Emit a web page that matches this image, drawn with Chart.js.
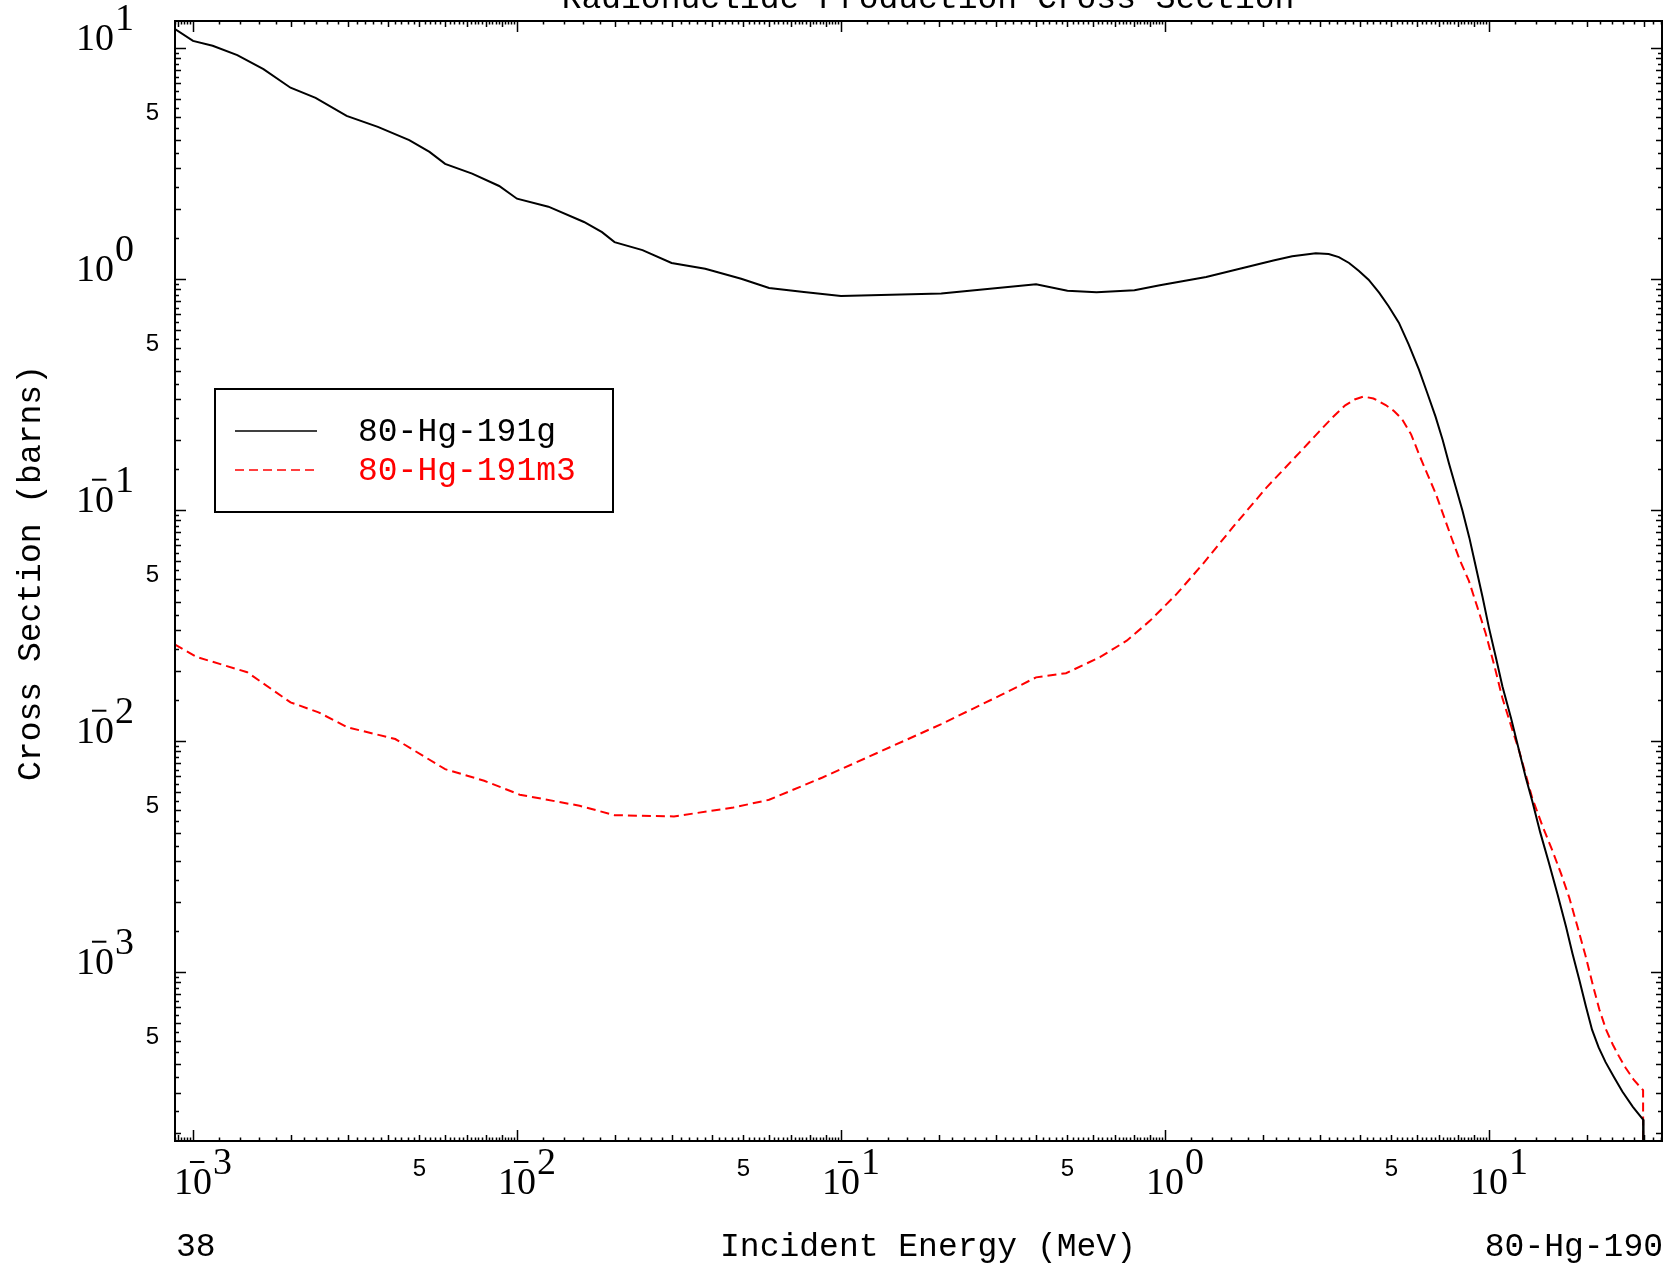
<!DOCTYPE html>
<html>
<head>
<meta charset="utf-8">
<script src="https://cdn.jsdelivr.net/npm/chart.js@4.4.1/dist/chart.umd.min.js"></script>
<style>
  html, body { margin: 0; padding: 0; background: #fff; overflow: hidden; }
  canvas { display: block; }
</style>
</head>
<body>
<canvas id="xsChart" width="1665" height="1267"></canvas>
<script>
// values (energy in MeV, cross section in barns)
const blackEnergy = [8.8e-4, 1.0e-3, 1.15e-3, 1.37e-3, 1.65e-3, 2.0e-3, 2.39e-3, 2.98e-3, 3.72e-3, 4.65e-3,
  5.37e-3, 6.0e-3, 7.27e-3, 8.81e-3, 1.0e-2, 1.25e-2, 1.61e-2, 1.83e-2, 2.0e-2, 2.44e-2,
  3.0e-2, 3.81e-2, 4.92e-2, 6.0e-2, 7.68e-2, 0.1, 0.204, 0.4, 0.5, 0.615,
  0.805, 0.964, 1.34, 2.16, 2.47, 2.92, 3.2, 3.44, 3.7, 3.97,
  4.25, 4.58, 4.9, 5.27, 5.65, 6.08, 6.45, 6.84, 7.2, 7.53,
  7.9, 8.28, 8.7, 9.1, 9.55, 10, 10.5, 11, 11.7, 12.4,
  13, 13.6, 14.4, 15.3, 16.3, 17.3, 18.1, 19.0, 19.9, 20.8,
  21.8, 22.9, 24.3, 25.8, 27.8, 29.9, 30];
const blackXS = [12.05, 10.7, 10.2, 9.29, 8.08, 6.71, 6.07, 5.07, 4.54, 3.98,
  3.54, 3.14, 2.85, 2.52, 2.22, 2.05, 1.76, 1.59, 1.44, 1.33,
  1.17, 1.105, 1.0, 0.911, 0.875, 0.841, 0.863, 0.947, 0.886, 0.874,
  0.891, 0.937, 1.018, 1.20, 1.25, 1.29, 1.28, 1.24, 1.17, 1.08,
  0.99, 0.87, 0.76, 0.645, 0.52, 0.404, 0.32, 0.253, 0.2, 0.158,
  0.125, 0.0993, 0.0755, 0.0569, 0.042, 0.0308, 0.023, 0.0172, 0.0125, 9.0e-3,
  6.9e-3, 5.48e-3, 4.0e-3, 2.97e-3, 2.15e-3, 1.56e-3, 1.2e-3, 9.22e-4, 7.1e-4, 5.61e-4,
  4.7e-4, 4.06e-4, 3.5e-4, 3.03e-4, 2.6e-4, 2.29e-4, 1e-6];

const redEnergy = [8.78e-4, 1.03e-3, 1.47e-3, 2.0e-3, 2.44e-3, 3.0e-3, 4.21e-3, 6.0e-3, 7.92e-3, 1.02e-2,
  1.56e-2, 2.0e-2, 3.05e-2, 4.66e-2, 6.0e-2, 8.77e-2, 0.134, 0.204, 0.31, 0.40,
  0.495, 0.63, 0.762, 0.90, 1.087, 1.31, 1.62, 2.06, 2.61, 3.0,
  3.3, 3.6, 3.85, 4.1, 4.4, 4.8, 5.1, 5.4, 5.75, 6.1,
  6.45, 6.84, 7.25, 7.7, 8.15, 8.67, 9.2, 9.77, 10.4, 11.0,
  11.7, 12.4, 13.0, 13.6, 14.6, 15.7, 16.7, 17.7, 18.8, 19.9,
  20.9, 21.9, 23.0, 24.1, 25.2, 26.4, 28.0, 29.9, 30];
const redXS = [0.0261, 0.0230, 0.0198, 0.01466, 0.01327, 0.01143, 0.01017, 7.53e-3, 6.71e-3, 5.84e-3,
  5.23e-3, 4.76e-3, 4.70e-3, 5.14e-3, 5.55e-3, 6.93e-3, 9.05e-3, 0.0118, 0.0157, 0.0188,
  0.0196, 0.0230, 0.0271, 0.0331, 0.0432, 0.0583, 0.0840, 0.125, 0.1775, 0.219,
  0.252, 0.283, 0.300, 0.309, 0.303, 0.284, 0.267, 0.246, 0.212, 0.172,
  0.143, 0.118, 0.094, 0.0741, 0.060, 0.0492, 0.038, 0.0291, 0.021, 0.0153,
  0.0116, 9.0e-3, 7.1e-3, 5.65e-3, 4.3e-3, 3.34e-3, 2.65e-3, 2.09e-3, 1.55e-3, 1.16e-3,
  8.8e-4, 6.88e-4, 5.6e-4, 4.84e-4, 4.3e-4, 3.84e-4, 3.4e-4, 3.07e-4, 1e-6];

const seriesLabels = ["80-Hg-191g", "80-Hg-191m3"];
const xExponents = [-3, -2, -1, 0, 1];
const yExponents = [-3, -2, -1, 0, 1];
const xFiveTicks = [5e-3, 5e-2, 5e-1, 5];
const yFiveTicks = [5e-4, 5e-3, 5e-2, 5e-1, 5];

const toPoints = (xs, ys) => xs.map((x, i) => ({ x: x, y: ys[i] }));

const MONO = '"Liberation Mono", monospace';
const SERIF = '"Liberation Serif", serif';

function drawPow(ctx, x, y, exp, centered) {
  ctx.font = "38px " + SERIF;
  ctx.textAlign = "left";
  ctx.textBaseline = "alphabetic";
  const w = ctx.measureText("10").width;
  const left = centered ? x - w / 2 : x;
  ctx.fillText("10", left, y);
  const right = left + w;
  const ey = y - 20;
  ctx.fillText(String(Math.abs(exp)), right + 1, ey);
  if (exp < 0) {
    ctx.beginPath();
    ctx.lineWidth = 2;
    ctx.moveTo(right - 0.58 * w, ey - 12);
    ctx.lineTo(right - 0.2 * w, ey - 12);
    ctx.stroke();
  }
}

const framePlugin = {
  id: "frame",
  afterDraw(chart) {
    const ctx = chart.ctx;
    const a = chart.chartArea;
    const xs = chart.scales.x;
    const ys = chart.scales.y;
    ctx.save();
    ctx.strokeStyle = "#000";
    ctx.fillStyle = "#000";

    // frame
    ctx.lineWidth = 2;
    ctx.strokeRect(a.left, a.top, a.right - a.left, a.bottom - a.top);

    // ticks, pointing inward on all four sides
    ctx.lineWidth = 1.5;
    ctx.beginPath();
    for (let p = -4; p <= 1; p++) {
      const d = Math.pow(10, p);
      for (let k = 5; k < 50; k++) {
        const v = (k / 5) * d;
        if (v < xs.min || v > xs.max) continue;
        const len = k === 5 ? 11 : (k % 5 === 0 ? 6 : 3.5);
        const px = Math.round(xs.getPixelForValue(v)) + 0.5;
        ctx.moveTo(px, a.bottom); ctx.lineTo(px, a.bottom - len);
        ctx.moveTo(px, a.top); ctx.lineTo(px, a.top + len);
      }
      for (let k = 2; k < 20; k++) {
        const v = (k / 2) * d;
        if (v < ys.min || v > ys.max) continue;
        const len = k === 2 ? 11 : (k % 2 === 0 ? 6 : 4);
        const py = Math.round(ys.getPixelForValue(v)) + 0.5;
        ctx.moveTo(a.left, py); ctx.lineTo(a.left + len, py);
        ctx.moveTo(a.right, py); ctx.lineTo(a.right - len, py);
      }
    }
    ctx.stroke();

    // decade labels
    xExponents.forEach(e => drawPow(ctx, xs.getPixelForValue(Math.pow(10, e)), a.bottom + 53, e, true));
    yExponents.forEach(e => drawPow(ctx, 76, ys.getPixelForValue(Math.pow(10, e)) + 2, e, false));

    // "5" labels
    ctx.font = "24px " + '"Liberation Sans", sans-serif';
    ctx.textAlign = "center";
    ctx.textBaseline = "alphabetic";
    xFiveTicks.forEach(v => ctx.fillText("5", xs.getPixelForValue(v), a.bottom + 35));
    ctx.textAlign = "right";
    yFiveTicks.forEach(v => ctx.fillText("5", 159, ys.getPixelForValue(v) + 3));

    // titles
    ctx.font = "33px " + MONO;
    ctx.textAlign = "center";
    ctx.fillText("Radionuclide Production Cross Section", 928, 8);
    ctx.fillText("Incident Energy (MeV)", 928, 1256);
    ctx.textAlign = "left";
    ctx.fillText("38", 176, 1256);
    ctx.textAlign = "right";
    ctx.fillText("80-Hg-190", 1663, 1256);
    ctx.save();
    ctx.translate(40, 573);
    ctx.rotate(-Math.PI / 2);
    ctx.textAlign = "center";
    ctx.fillText("Cross Section (barns)", 0, 0);
    ctx.restore();

    // legend box
    ctx.lineWidth = 2;
    ctx.strokeRect(215, 389, 398, 123);
    const ds = chart.data.datasets;
    const rows = [431, 470];
    ds.forEach((d, i) => {
      ctx.beginPath();
      ctx.strokeStyle = d.borderColor;
      ctx.lineWidth = 1.5;
      ctx.setLineDash(d.borderDash || []);
      ctx.moveTo(235, rows[i]);
      ctx.lineTo(317, rows[i]);
      ctx.stroke();
      ctx.setLineDash([]);
      ctx.fillStyle = d.borderColor;
      ctx.textAlign = "left";
      ctx.textBaseline = "middle";
      ctx.font = "33px " + MONO;
      ctx.fillText(d.label, 358, rows[i] + 1);
    });
    ctx.restore();
  }
};

new Chart(document.getElementById("xsChart"), {
  type: "line",
  data: {
    datasets: [
      {
        label: seriesLabels[0],
        data: toPoints(blackEnergy, blackXS),
        borderColor: "#000000",
        borderWidth: 2,
        pointRadius: 0,
        tension: 0,
        fill: false
      },
      {
        label: seriesLabels[1],
        data: toPoints(redEnergy, redXS),
        borderColor: "#ff0000",
        borderWidth: 2,
        borderDash: [9, 5],
        pointRadius: 0,
        tension: 0,
        fill: false
      }
    ]
  },
  options: {
    responsive: false,
    animation: false,
    devicePixelRatio: 1,
    layout: { padding: { left: 175, right: 3, top: 21, bottom: 126 } },
    plugins: { legend: { display: false }, tooltip: { enabled: false }, title: { display: false } },
    scales: {
      x: { type: "logarithmic", min: 8.8e-4, max: 34.2, display: false },
      y: { type: "logarithmic", min: 1.85e-4, max: 13.05, display: false }
    }
  },
  plugins: [framePlugin]
});
</script>
</body>
</html>
